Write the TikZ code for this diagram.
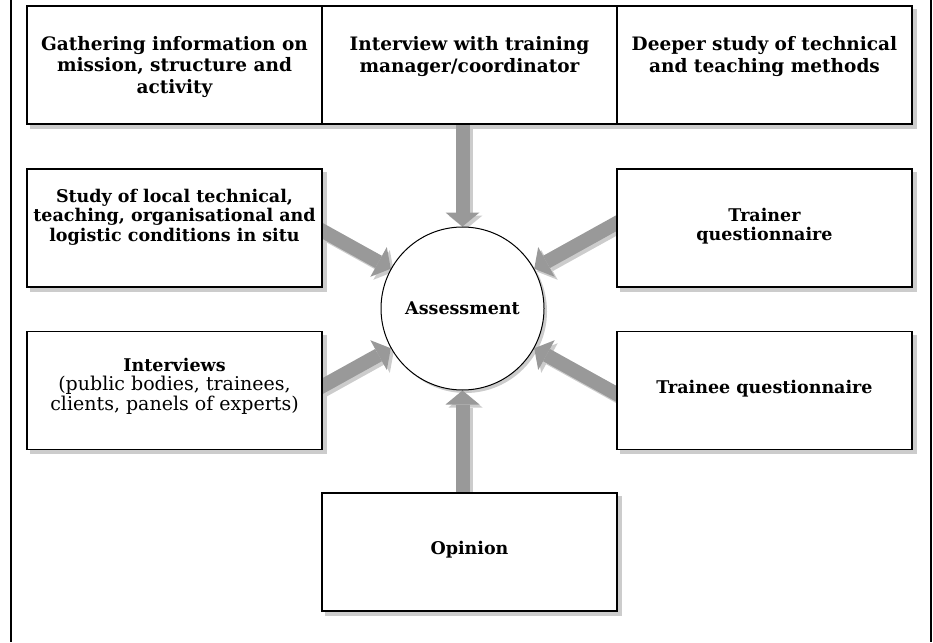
\documentclass[tikz,border=0pt]{standalone}
\usepackage{fontspec}
\newfontfamily\midfont{DejaVu Serif}
\newcommand\regfont{\midfont\mdseries\fontsize{19}{19.5}\selectfont}
\usetikzlibrary{arrows.meta}
\pgfdeclarelayer{bg}
\pgfdeclarelayer{arr}
\pgfsetlayers{bg,arr,main}
\definecolor{arrgray}{RGB}{153,153,153}
\definecolor{shdgray}{RGB}{204,204,204}
\begin{document}
\begin{tikzpicture}[x=1pt,y=-1pt,
  box/.style={draw=black, line width=1.2pt, fill=white, minimum width=295pt, minimum height=118pt, inner sep=0pt},
  toptext/.style={align=center, inner sep=0pt, font=\midfont\bfseries\fontsize{18.5}{21.5}\selectfont},
  midtext/.style={align=center, inner sep=0pt, font=\midfont\bfseries\fontsize{17.5}{19.5}\selectfont},
  fat/.style={line width=14pt, draw=arrgray, -{Triangle[width=34pt,length=14pt,line width=0pt]}},
  fatshadow/.style={fat, draw=shdgray, transform canvas={xshift=3pt,yshift=-3pt}},
  boxshadow/.style={fill=shdgray}
]
\useasboundingbox (0,0) rectangle (933,642);
% outer frame lines
\draw[line width=1.5pt] (11,0) coordinate (fl1) -- (11,642) coordinate (fl2);
\draw[line width=1.5pt] (931,0) coordinate (fr1) -- (931,642) coordinate (fr2);

% boxes
\node[box] (T1) at (174.5,65) {};
\node[box] (T2) at (469.5,65) {};
\node[box] (T3) at (764.5,65) {};
\node[box] (L1) at (174.5,228) {};
\node[box] (L2) at (174.5,390.5) {};
\node[box] (R1) at (764.5,228) {};
\node[box] (R2) at (764.5,390.5) {};
\node[box] (O) at (469.5,552) {};
\node[circle, draw=black, line width=1pt, fill=white, minimum size=163pt, inner sep=0pt] (A) at (462.5,308.5) {};

% texts
\node[toptext] (T1t) at (174.5,67) {Gathering information on\\mission, structure and\\activity};
\node[toptext] (T2t) at (469.5,56.5) {Interview with training\\manager/coordinator};
\node[toptext] (T3t) at (764.5,56.5) {Deeper study of technical\\and teaching methods};
\node[midtext] (L1t) at (174.5,217) {Study of local technical,\\teaching, organisational and\\logistic conditions in situ};
\node[midtext] (R1t) at (764.5,226) {Trainer\\questionnaire};
\node[midtext] (L2t) at (174.5,386) {Interviews\\{\regfont(public bodies, trainees,}\\{\regfont clients, panels of experts)}};
\node[midtext] (R2t) at (764.5,389) {Trainee questionnaire};
\node[midtext] (Ot) at (469.5,550) {Opinion};
\node[midtext] (At) at (462.5,308) {Assessment};

% arrow start points (inside the boxes)
\coordinate (sT) at (462.5,100);
\coordinate (sO) at (462.5,520);
\coordinate (sL1) at (287.6,211.5);
\coordinate (sL2) at (287.6,405.5);
\coordinate (sR1) at (637.4,211.5);
\coordinate (sR2) at (637.4,405.5);

\begin{pgfonlayer}{bg}
  \fill[boxshadow] ([shift={(4,4)}]T1.north west) rectangle ([shift={(4,4)}]T3.south east);
  \foreach \b in {L1,L2,R1,R2,O}{
    \fill[boxshadow] ([shift={(4,4)}]\b.north west) rectangle ([shift={(4,4)}]\b.south east);
  }
  \fill[shdgray] (465.5,311.5) circle[radius=81.5pt];
\end{pgfonlayer}

\begin{pgfonlayer}{arr}
  \foreach \s in {sT,sO,sL1,sL2,sR1,sR2}{
    \draw[fatshadow] (\s) -- (A);
  }
  \foreach \s in {sT,sO,sL1,sL2,sR1,sR2}{
    \draw[fat] (\s) -- (A);
  }
\end{pgfonlayer}
\end{tikzpicture}
\end{document}
